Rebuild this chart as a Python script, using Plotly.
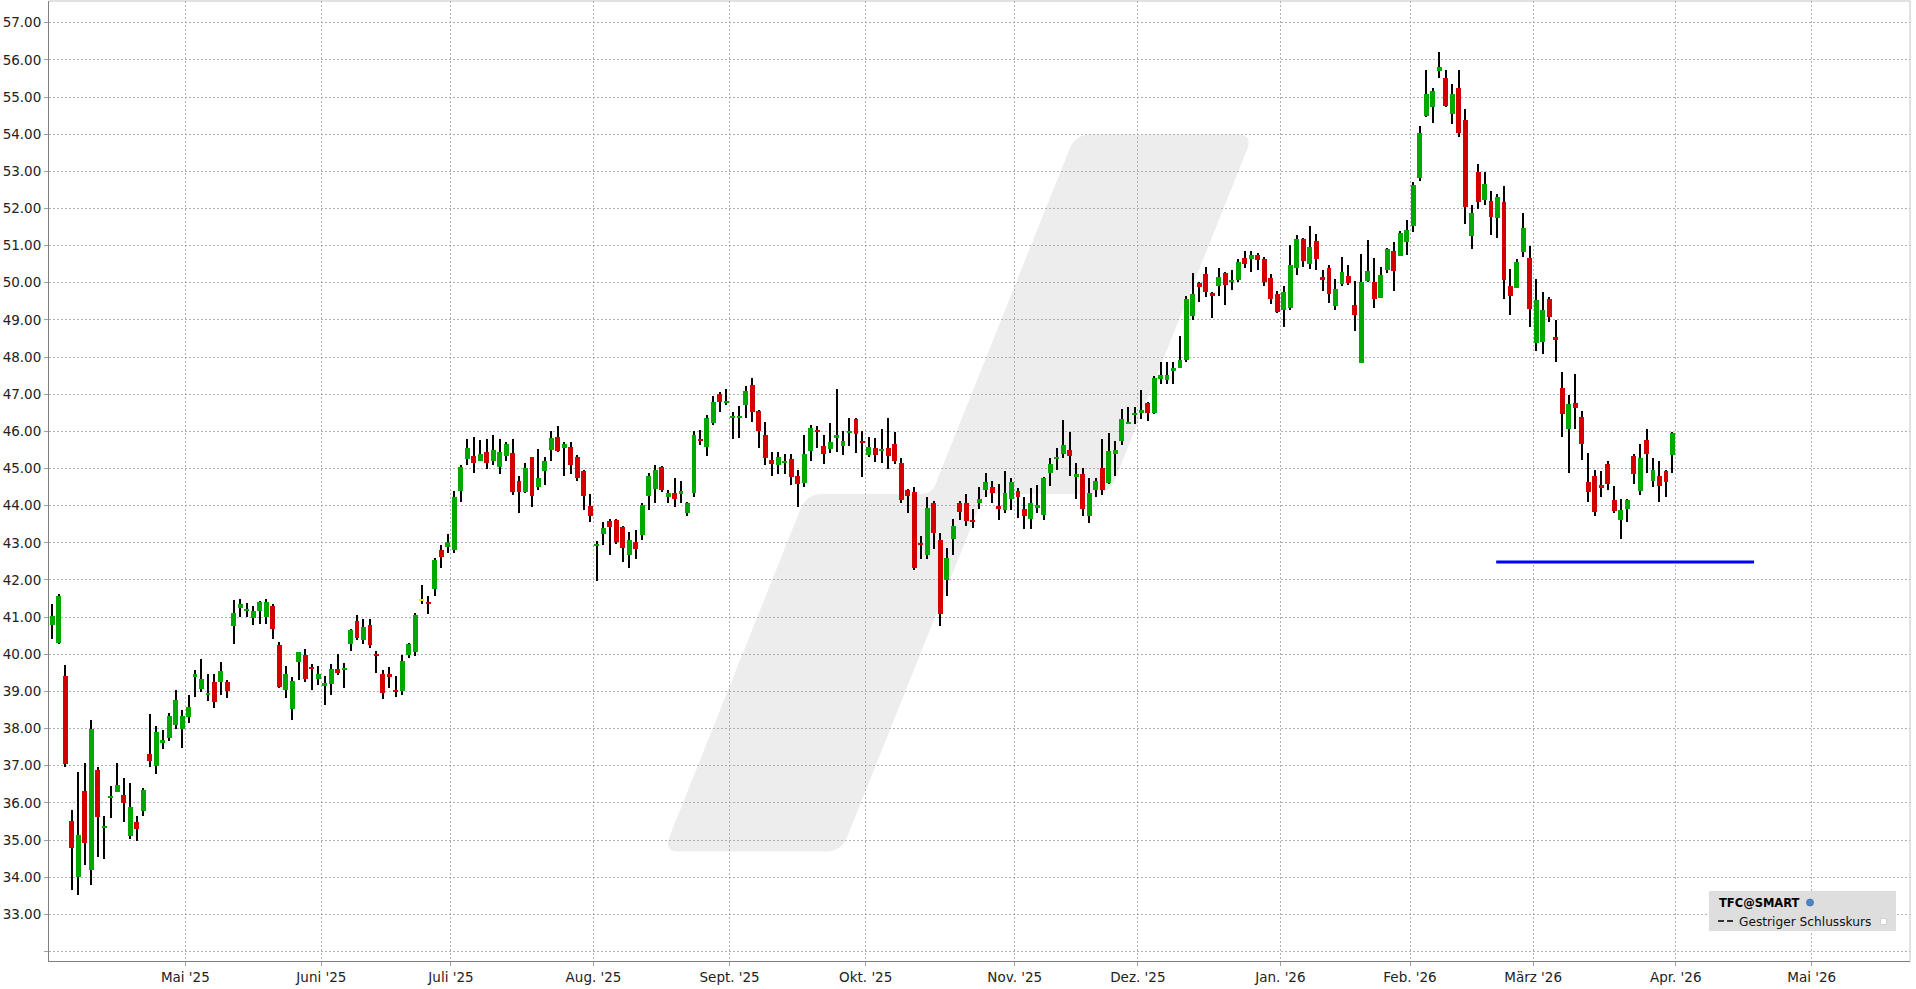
import numpy as np
import pandas as pd
import plotly.graph_objects as go

# ---------------- trading calendar (categories) ----------------
holidays = ["2025-04-18", "2025-05-26", "2025-06-19", "2025-07-04", "2025-09-01",
            "2025-11-27", "2025-12-25", "2026-01-01", "2026-01-19", "2026-02-16",
            "2026-04-03", "2026-05-25"]
sessions = pd.bdate_range("2025-04-01", "2026-06-30", freq="C", holidays=holidays)

# ---------------- OHLC data ----------------
opens = [40.80, 40.30, 39.41, 35.51, 34.01, 36.32, 34.19, 36.88, 35.33, 36.14,
         36.30, 36.21, 35.11, 35.48, 35.79, 37.31, 37.00, 37.63, 37.75, 38.09,
         37.99, 38.31, 39.39, 39.06, 38.91, 39.25, 39.26, 39.25, 40.77, 41.25,
         41.17, 40.98, 41.17, 41.01, 41.30, 40.25, 39.05, 38.52, 39.80, 39.98,
         39.66, 39.33, 39.17, 39.20, 39.60, 39.58, 40.28, 40.90, 40.39, 40.79,
         40.01, 39.47, 39.48, 39.04, 39.00, 39.98, 40.07, 41.44, 41.41, 41.76,
         42.81, 42.90, 42.81, 44.40, 45.26, 45.34, 45.20, 45.45, 45.20, 45.05,
         45.34, 45.42, 44.67, 44.38, 45.31, 44.49, 44.94, 45.50, 45.85, 45.55,
         45.58, 45.31, 44.94, 43.99, 42.92, 43.24, 43.59, 43.62, 43.43, 42.66,
         43.02, 43.21, 44.27, 44.46, 45.04, 44.22, 44.34, 44.32, 43.81, 44.35,
         45.80, 45.58, 46.23, 47.01, 46.77, 46.37, 46.35, 46.70, 47.25, 46.55,
         45.90, 45.23, 45.10, 45.16, 45.26, 44.80, 44.62, 45.47, 46.04, 45.61,
         45.53, 45.82, 45.61, 45.97, 46.34, 45.74, 45.37, 45.55, 45.47, 45.55,
         45.66, 45.15, 44.43, 44.37, 43.00, 42.66, 44.07, 43.08, 42.01, 43.11,
         44.07, 44.07, 43.62, 44.08, 44.41, 44.50, 43.99, 43.89, 44.19, 44.40,
         43.91, 43.65, 43.95, 43.76, 44.89, 45.27, 45.40, 45.50, 44.76, 44.85,
         43.71, 44.43, 45.02, 44.62, 45.40, 45.74, 46.21, 46.43, 46.50, 46.77,
         46.49, 47.40, 47.38, 47.65, 47.71, 47.93, 49.11, 49.99, 50.23, 49.72,
         49.92, 50.26, 50.02, 50.08, 50.66, 50.64, 50.74, 50.63, 50.12, 49.69,
         49.27, 49.32, 50.40, 51.17, 50.51, 51.12, 50.15, 50.39, 49.38, 49.97,
         50.18, 49.39, 47.84, 50.04, 50.01, 49.59, 50.35, 50.85, 50.72, 51.10,
         51.52, 52.81, 54.50, 54.74, 55.69, 55.52, 54.55, 55.25, 54.39, 51.27,
         52.99, 52.24, 52.21, 51.75, 52.18, 49.92, 49.87, 50.84, 50.67, 48.38,
         48.41, 49.57, 48.55, 47.17, 46.05, 46.77, 46.39, 44.63, 44.79, 44.54,
         45.13, 44.14, 43.62, 43.91, 45.35, 44.39, 45.78, 44.66, 44.79, 44.92,
         45.36]
highs = [41.35, 41.61, 39.71, 35.81, 36.83, 37.07, 38.23, 36.97, 35.64, 36.45,
         37.07, 36.67, 36.53, 35.64, 36.40, 38.39, 38.08, 37.96, 38.43, 39.04,
         38.50, 38.91, 39.57, 39.87, 39.47, 39.47, 39.79, 39.31, 41.46, 41.49,
         41.37, 41.30, 41.43, 41.49, 41.35, 40.34, 39.68, 39.39, 40.06, 40.14,
         39.74, 39.68, 39.41, 39.75, 40.00, 39.77, 40.68, 41.06, 40.96, 40.96,
         40.08, 39.57, 39.66, 39.41, 39.98, 40.29, 41.12, 41.87, 41.57, 42.58,
         42.94, 43.24, 44.40, 45.10, 45.80, 45.85, 45.77, 45.80, 45.91, 45.80,
         45.72, 45.80, 44.80, 45.15, 45.31, 45.53, 45.30, 46.01, 46.15, 45.72,
         45.72, 45.37, 44.96, 44.32, 43.05, 43.56, 43.64, 43.64, 43.45, 43.29,
         43.35, 44.07, 44.88, 45.10, 45.06, 44.43, 44.75, 44.67, 44.11, 46.01,
         46.04, 46.44, 46.94, 47.05, 47.14, 46.52, 46.69, 47.21, 47.44, 46.58,
         46.25, 45.45, 45.45, 45.39, 45.39, 44.96, 45.90, 46.17, 46.15, 45.90,
         46.23, 47.14, 46.01, 46.36, 46.36, 46.01, 45.85, 45.82, 46.07, 46.36,
         45.99, 45.28, 44.46, 44.50, 43.18, 44.24, 44.13, 43.27, 42.86, 43.64,
         44.13, 44.32, 43.91, 44.50, 44.88, 44.67, 44.59, 44.94, 44.75, 44.48,
         44.24, 44.48, 44.56, 44.77, 45.29, 45.55, 46.31, 45.99, 45.15, 45.02,
         44.75, 44.75, 45.80, 45.96, 45.74, 46.61, 46.66, 46.66, 47.12, 46.80,
         47.48, 47.86, 47.88, 47.88, 48.56, 49.64, 50.26, 50.02, 50.42, 49.74,
         50.39, 50.28, 50.34, 50.63, 50.85, 50.85, 50.80, 50.69, 50.23, 49.77,
         49.91, 51.01, 51.28, 51.20, 51.52, 51.31, 50.34, 50.47, 50.10, 50.69,
         50.47, 50.04, 50.77, 51.15, 50.66, 50.42, 50.93, 51.09, 51.39, 51.69,
         52.72, 54.23, 55.74, 55.25, 56.20, 55.74, 55.34, 55.74, 54.69, 52.10,
         53.21, 52.99, 52.48, 52.40, 52.61, 50.38, 50.65, 51.89, 51.00, 50.11,
         49.76, 49.62, 49.00, 47.60, 46.98, 47.54, 46.55, 45.43, 44.95, 44.92,
         45.19, 44.54, 44.17, 44.17, 45.40, 45.67, 46.07, 45.27, 45.21, 44.97,
         45.99]
lows = [40.41, 40.28, 36.97, 33.65, 33.52, 34.33, 33.79, 34.55, 34.49, 35.60,
        36.30, 35.49, 35.03, 34.98, 35.65, 36.97, 36.78, 37.45, 37.66, 38.00,
        37.47, 38.14, 38.86, 38.99, 38.75, 38.54, 38.90, 38.83, 40.27, 41.01,
        40.99, 40.79, 40.81, 40.81, 40.41, 39.10, 38.81, 38.23, 39.30, 39.26,
        39.04, 39.17, 38.63, 38.90, 39.44, 39.08, 40.09, 40.39, 40.28, 40.18,
        39.50, 38.79, 39.08, 38.84, 38.90, 39.91, 39.95, 41.35, 41.08, 41.57,
        42.33, 42.72, 42.72, 44.11, 45.10, 44.89, 45.19, 45.00, 45.10, 44.85,
        45.19, 44.29, 43.81, 44.33, 43.97, 44.41, 44.56, 45.20, 45.45, 44.80,
        44.85, 44.67, 43.87, 43.57, 41.96, 42.95, 42.66, 42.98, 42.49, 42.31,
        42.57, 43.08, 43.89, 44.06, 44.38, 44.08, 43.97, 44.08, 43.73, 44.22,
        45.64, 45.34, 46.17, 46.51, 46.70, 45.80, 45.82, 46.37, 46.24, 45.55,
        45.10, 44.81, 44.85, 44.85, 44.56, 43.97, 44.49, 45.20, 45.55, 45.12,
        45.42, 45.45, 45.37, 45.61, 45.42, 44.78, 45.31, 45.18, 45.15, 45.00,
        45.12, 44.06, 43.79, 42.28, 42.57, 42.57, 42.84, 40.77, 41.58, 42.68,
        43.62, 43.46, 43.41, 43.92, 44.22, 44.08, 43.62, 43.81, 43.89, 43.68,
        43.38, 43.36, 43.81, 43.62, 44.54, 44.97, 45.29, 44.80, 44.19, 43.73,
        43.54, 44.22, 44.29, 44.57, 44.80, 45.64, 46.21, 46.21, 46.34, 46.28,
        46.46, 47.27, 47.27, 47.27, 47.70, 47.88, 48.99, 49.48, 49.62, 49.05,
        49.65, 49.40, 49.81, 50.02, 50.40, 50.29, 50.35, 49.92, 49.43, 49.19,
        48.81, 49.27, 50.21, 50.43, 50.37, 50.35, 49.78, 49.46, 49.27, 49.92,
        49.94, 48.70, 47.84, 50.02, 49.32, 49.59, 50.27, 49.78, 50.72, 50.75,
        51.36, 52.73, 54.47, 54.31, 55.52, 54.72, 54.26, 53.91, 51.59, 50.92,
        51.99, 52.10, 51.29, 51.21, 49.57, 49.14, 49.87, 50.70, 48.82, 48.17,
        48.09, 48.95, 47.88, 45.84, 44.88, 46.05, 45.22, 44.10, 43.72, 44.23,
        44.42, 43.80, 43.11, 43.56, 44.58, 44.30, 44.88, 44.50, 44.10, 44.23,
        44.88]
closes = [41.03, 41.57, 37.04, 34.79, 35.13, 34.93, 37.99, 35.63, 35.38, 36.18,
          36.48, 35.99, 35.89, 35.30, 36.34, 37.13, 37.91, 37.66, 38.34, 38.77,
          38.34, 38.58, 39.47, 39.33, 38.96, 38.72, 39.55, 39.02, 41.10, 41.35,
          41.22, 41.16, 41.40, 41.40, 40.68, 39.13, 39.48, 39.28, 40.05, 39.33,
          39.61, 39.48, 39.22, 39.60, 39.49, 39.64, 40.65, 40.45, 40.74, 40.25,
          39.94, 38.96, 39.39, 38.98, 39.82, 40.28, 41.06, 41.44, 41.36, 42.54,
          42.62, 43.01, 44.22, 45.04, 45.55, 45.16, 45.39, 45.16, 45.50, 45.45,
          45.66, 44.38, 44.38, 45.02, 44.27, 44.75, 45.20, 45.82, 45.47, 45.66,
          45.10, 44.75, 44.27, 43.72, 42.97, 43.40, 43.43, 43.02, 42.87, 43.08,
          42.84, 44.02, 44.80, 44.96, 44.43, 44.34, 44.19, 44.40, 44.07, 45.90,
          45.74, 46.36, 46.79, 46.79, 46.82, 46.42, 46.42, 47.09, 46.53, 46.01,
          45.29, 45.13, 45.31, 45.21, 44.78, 44.57, 45.39, 46.09, 45.99, 45.39,
          45.72, 45.90, 45.74, 46.01, 45.93, 45.70, 45.58, 45.37, 45.53, 45.34,
          45.20, 44.16, 44.26, 42.32, 42.95, 43.94, 43.27, 41.09, 42.59, 43.45,
          43.84, 43.60, 43.57, 44.18, 44.64, 44.35, 43.92, 44.34, 44.64, 44.24,
          43.73, 44.07, 44.02, 44.75, 45.12, 45.31, 45.64, 45.35, 44.85, 43.92,
          44.34, 44.67, 44.41, 45.47, 45.50, 46.34, 46.25, 46.50, 46.58, 46.50,
          47.43, 47.53, 47.53, 47.70, 47.91, 49.56, 49.69, 49.89, 49.75, 49.67,
          50.15, 49.94, 50.07, 50.56, 50.51, 50.74, 50.62, 50.02, 49.57, 49.21,
          49.74, 50.47, 51.17, 50.59, 50.96, 50.64, 50.10, 49.70, 49.83, 50.28,
          50.00, 49.13, 50.01, 50.31, 49.57, 50.20, 50.90, 50.32, 51.34, 51.42,
          52.64, 54.02, 55.09, 55.15, 55.82, 54.77, 55.09, 54.04, 52.05, 51.89,
          52.18, 52.67, 51.78, 52.32, 50.08, 49.65, 50.57, 51.48, 49.30, 49.54,
          49.27, 49.08, 48.47, 46.48, 46.74, 46.64, 45.65, 44.37, 43.83, 44.50,
          44.58, 43.86, 43.88, 44.14, 44.85, 45.29, 45.38, 44.95, 44.53, 44.63,
          45.96]

# previous-close reference level ("Gestriger Schlusskurs")
prev_close_level = 42.48
prev_close_span = [222.8, 262.6]   # in session-index units

# axis ticks
month_starts = ["2025-05-01", "2025-06-01", "2025-07-01", "2025-08-01", "2025-09-01",
                "2025-10-01", "2025-11-01", "2025-12-01", "2026-01-01", "2026-02-01",
                "2026-03-01", "2026-04-01", "2026-05-01"]
month_labels = ["Mai '25", "Juni '25", "Juli '25", "Aug. '25", "Sept. '25", "Okt. '25",
                "Nov. '25", "Dez. '25", "Jan. '26", "Feb. '26", "März '26", "Apr. '26",
                "Mai '26"]
price_ticks = list(range(32, 58))

# ---------------- derived ----------------
n = len(closes)
dates = sessions[:n]
xi = np.arange(n)
o = np.array(opens); h = np.array(highs); l = np.array(lows); c = np.array(closes)
GREEN, RED, YELLOW = "#00a800", "#d40000", "#f5e600"
colors = [GREEN if cc > oo else (RED if cc < oo else YELLOW) for oo, cc in zip(o, c)]
body_base = np.minimum(o, c)
body_h = np.maximum(np.abs(c - o), 0.05)

month_pos = [int(sessions.searchsorted(pd.Timestamp(m))) - 0.5 for m in month_starts]
price_text = ["" if v == 32 else f"{v:.2f}" for v in price_ticks]

FONT = "DejaVu Sans"
W, H = 1916, 989
PL, PR, PT, PB = 49, 1910, 1, 961


def px(X):
    return (X - PL) / (PR - PL)


def py(Y):
    return (PB - Y) / (PB - PT)


def rounded_path(pts, radii):
    segs = []
    m = len(pts)
    for k in range(m):
        p0 = np.array(pts[k - 1], float)
        p1 = np.array(pts[k], float)
        p2 = np.array(pts[(k + 1) % m], float)
        d1 = (p0 - p1) / np.linalg.norm(p0 - p1)
        d2 = (p2 - p1) / np.linalg.norm(p2 - p1)
        r = radii[k]
        segs.append((p1 + d1 * r, p1, p1 + d2 * r))
    s = ""
    for k, (a, cc, b) in enumerate(segs):
        s += ("M" if k == 0 else "L") + f"{px(a[0]):.5f},{py(a[1]):.5f} "
        s += f"Q{px(cc[0]):.5f},{py(cc[1]):.5f} {px(b[0]):.5f},{py(b[1]):.5f} "
    return s + "Z"


fig = go.Figure()

# wicks
fig.add_trace(go.Bar(x=xi, base=l, y=h - l, width=0.16, marker_color="#000000",
                     marker_line_width=0, hoverinfo="skip", showlegend=False))
# bodies
fig.add_trace(go.Bar(x=xi, base=body_base, y=body_h, width=0.76, marker_color=colors,
                     marker_line_width=0, showlegend=False,
                     customdata=np.stack([o, h, l, c], axis=1),
                     hovertext=[d.strftime("%d.%m.%Y") for d in dates],
                     hovertemplate="%{hovertext}<br>O %{customdata[0]:.2f} H %{customdata[1]:.2f}"
                                   " L %{customdata[2]:.2f} C %{customdata[3]:.2f}<extra></extra>"))
# previous close line
fig.add_trace(go.Scatter(x=prev_close_span, y=[prev_close_level] * 2, mode="lines",
                         line=dict(color="#0000ff", width=3), showlegend=False,
                         hoverinfo="skip"))

shapes = []
# watermark (slanted logo)
wm = [(1075.3, 134.6), (1253.1, 134.6), (1109.3, 494), (984.3, 494),
      (841.3, 851.6), (663.5, 851.6), (806.5, 494), (931.5, 494)]
shapes.append(dict(type="path", path=rounded_path(wm, [16, 16, 16, 10, 16, 16, 16, 10]),
                   xref="paper", yref="paper", fillcolor="#ededed",
                   line=dict(width=0), layer="below"))
# frame (top / right)
shapes.append(dict(type="line", xref="paper", yref="paper", x0=0, x1=1, y0=1, y1=1,
                   line=dict(color="#c4c4c4", width=1)))
shapes.append(dict(type="line", xref="paper", yref="paper", x0=1, x1=1, y0=0, y1=1,
                   line=dict(color="#c4c4c4", width=1)))
# legend box
shapes.append(dict(type="rect", xref="paper", yref="paper", x0=px(1709), x1=px(1896),
                   y0=py(931), y1=py(891), fillcolor="#dedede", line=dict(width=0)))
shapes.append(dict(type="line", xref="paper", yref="paper", x0=px(1718), x1=px(1724),
                   y0=py(921), y1=py(921), line=dict(color="#333333", width=2)))
shapes.append(dict(type="line", xref="paper", yref="paper", x0=px(1727), x1=px(1733),
                   y0=py(921), y1=py(921), line=dict(color="#333333", width=2)))
shapes.append(dict(type="circle", xref="paper", yref="paper", x0=px(1806.5), x1=px(1813.5),
                   y0=py(906), y1=py(899), fillcolor="#4f86c6",
                   line=dict(color="#2d5c96", width=0.6)))
shapes.append(dict(type="rect", xref="paper", yref="paper", x0=px(1880.5), x1=px(1886.5),
                   y0=py(924.5), y1=py(918.5), fillcolor="#ffffff",
                   line=dict(color="#cfcfcf", width=1)))

annotations = [
    dict(text="<b>TFC@SMART</b>", x=px(1716.5), y=py(902.5), xref="paper", yref="paper",
         xanchor="left", yanchor="middle", showarrow=False,
         font=dict(family=FONT, size=11.5, color="#000000")),
    dict(text="Gestriger Schlusskurs", x=px(1736.5), y=py(921.5), xref="paper", yref="paper",
         xanchor="left", yanchor="middle", showarrow=False,
         font=dict(family=FONT, size=12.2, color="#111111")),
]

axis_common = dict(showgrid=True, gridcolor="#b0b0b0", griddash="2px,2px", gridwidth=1,
                   zeroline=False, showline=True, linecolor="#808080", linewidth=1,
                   ticks="outside", ticklen=4, tickcolor="#a0a0a0",
                   tickfont=dict(family=FONT, size=13.5, color="#222222"))

fig.update_layout(
    width=W, height=H,
    margin=dict(l=PL, r=W - PR, t=PT, b=H - PB),
    paper_bgcolor="#ffffff", plot_bgcolor="#ffffff",
    barmode="overlay", bargap=0,
    showlegend=False,
    shapes=shapes, annotations=annotations,
    xaxis=dict(range=[-0.534, 286.66], tickmode="array", tickvals=month_pos,
               ticktext=month_labels, **axis_common),
    yaxis=dict(range=[31.743, 57.584], tickmode="array", tickvals=price_ticks,
               ticktext=price_text, **axis_common),
    font=dict(family=FONT),
)

fig.write_html("out.html",
               config={"displayModeBar": False},
               post_script="document.body.style.margin='0px';"
                           "document.body.style.overflow='hidden';")
